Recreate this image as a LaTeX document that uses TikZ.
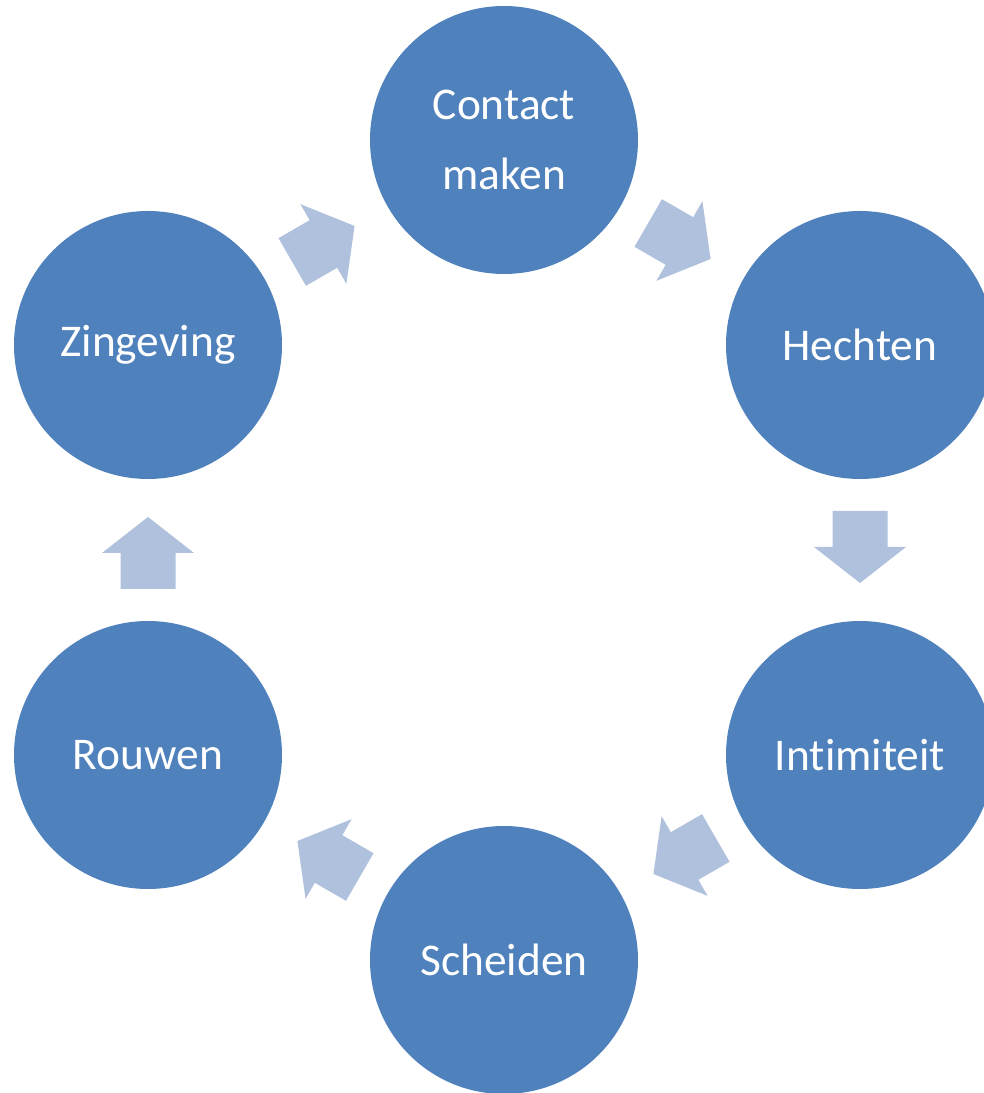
\documentclass[tikz,border=0pt]{standalone}
\usepackage{fontspec}
\setmainfont[Ligatures=NoCommon]{Carlito}
\usetikzlibrary{calc}
\definecolor{circblue}{HTML}{4F81BD}
\definecolor{arrblue}{HTML}{B0C1DD}
\tikzset{
  stage/.style={circle, fill=circblue, draw=none, minimum size=134pt, inner sep=0pt,
    text=white, font=\fontsize{22.7pt}{35pt}\selectfont, align=center},
  blockarrow/.pic={
    \fill[arrblue] (-39,-27.5) -- (-3,-27.5) -- (-3,-46) -- (33,0) -- (-3,46) -- (-3,27.5) -- (-39,27.5) -- cycle;
  }
}
\begin{document}
\begin{tikzpicture}[x=0.5pt,y=0.5pt]
\useasboundingbox (0,0) rectangle (984,1093);
\begin{scope}
\clip (0,0) rectangle (984,1093);
\node[stage] (c) at (504,953) {Contact\\maken};
\node[stage] (h) at (860,748) {Hechten};
\node[stage] (i) at (860,338) {Intimiteit};
\node[stage] (s) at (504,133) {Scheiden};
\node[stage] (r) at (148,338) {Rouwen};
\node[stage] (z) at (148,748) {Zingeving};
\end{scope}
\pic[rotate=-30] at ($(c)!0.5!(h)$) {blockarrow};
\pic[rotate=-90] at ($(h)!0.5!(i)$) {blockarrow};
\pic[rotate=210] at ($(i)!0.5!(s)$) {blockarrow};
\pic[rotate=150] at ($(s)!0.5!(r)$) {blockarrow};
\pic[rotate=90] at ($(r)!0.5!(z)$) {blockarrow};
\pic[rotate=30] at ($(z)!0.5!(c)$) {blockarrow};
\end{tikzpicture}
\end{document}
